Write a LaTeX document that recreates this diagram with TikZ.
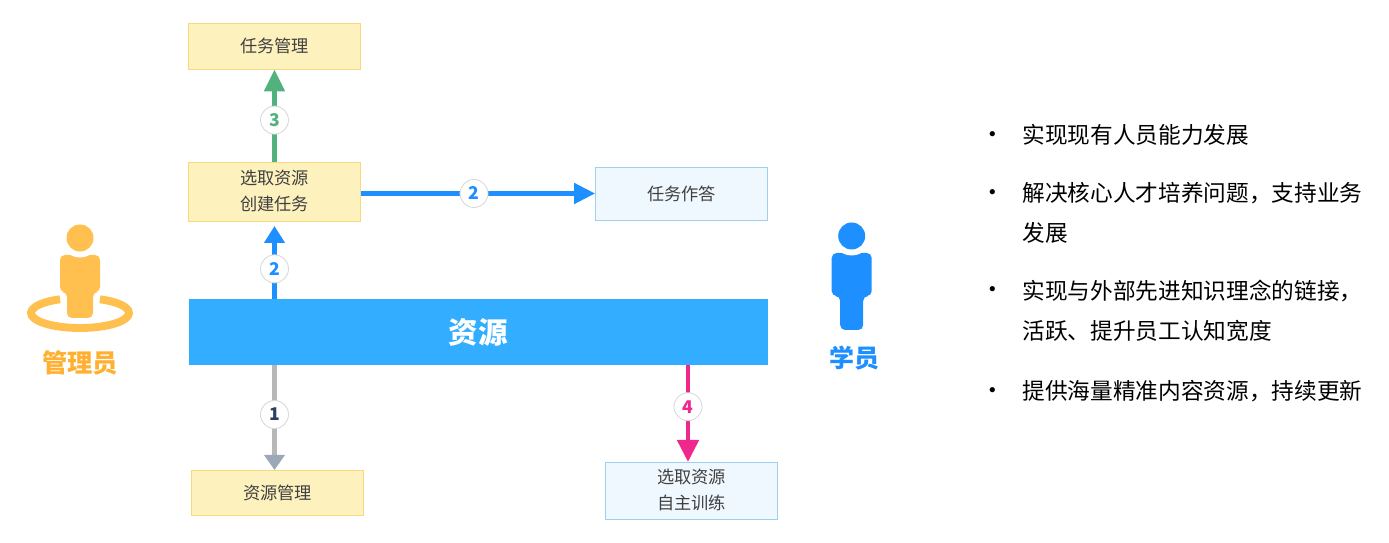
\documentclass[tikz,border=0pt]{standalone}
\usepackage{fontspec}
\setmainfont{Noto Sans CJK SC}
\usepackage{xcolor}
\usetikzlibrary{arrows.meta,positioning}
\definecolor{boxyellow}{RGB}{253,241,190}
\definecolor{lineyellow}{RGB}{249,216,128}
\definecolor{boxblue}{RGB}{240,248,255}
\definecolor{lineblue}{RGB}{156,208,238}
\definecolor{band}{RGB}{51,173,255}
\definecolor{arrowblue}{RGB}{30,143,255}
\definecolor{arrowgreen}{RGB}{82,178,126}
\definecolor{arrowpink}{RGB}{240,40,140}
\definecolor{arrowgrey}{RGB}{184,184,184}
\definecolor{tipgrey}{RGB}{156,168,184}
\definecolor{numdark}{RGB}{45,63,95}
\definecolor{admin}{RGB}{255,192,80}
\definecolor{admintext}{RGB}{255,176,48}
\tikzset{
  box/.style={minimum width=3.44cm,inner sep=0pt,line width=0.45pt,text=black!75,font=\fontsize{9.8}{14.8}\selectfont,align=center},
  adminbox/.style={box,draw=lineyellow,fill=boxyellow},
  userbox/.style={box,draw=lineblue,fill=boxblue},
  flow/.style={line width=2.7pt},
  num/.style={circle,draw=black!15,fill=white,line width=0.5pt,minimum size=0.56cm,inner sep=0pt,font=\fontsize{10}{10}\selectfont\bfseries},
  item/.style={anchor=west,align=left,inner sep=0pt,text=black,font=\fontsize{12.9}{22.8}\selectfont},
  dot/.style={inner sep=0pt,text=black,font=\fontsize{14}{14}\selectfont}
}
% x y colour shoulder-bottom leg-bottom leg-halfwidth
\newcommand{\drawperson}[6]{
  \fill[#3,rounded corners=2.8pt] (#1-20,#2-17) -- (#1-20,#2-#4) -- (#1-#6,#2-#4) -- (#1-#6,#2-#5) -- (#1+#6,#2-#5) -- (#1+#6,#2-#4) -- (#1+20,#2-#4) -- (#1+20,#2-17) -- cycle;
  \fill[white] (#1,#2) circle (19.5);
  \fill[#3] (#1,#2) circle (13.5);
}

\begin{document}
\begin{tikzpicture}[x=0.02cm,y=0.02cm]
  \useasboundingbox (0,0) rectangle (1389,543);

  \node[adminbox,minimum height=0.92cm] (taskmgr) at (274.5,497) {任务管理};
  \node[adminbox,minimum height=1.18cm] (select) at (274.5,351.5) {选取资源\\创建任务};
  \node[userbox,minimum height=1.06cm] (answer) at (681.5,349.5) {任务作答};
  \node[minimum width=11.58cm,minimum height=1.32cm,inner sep=0pt,fill=band,text=white,font=\fontsize{16.8}{20}\selectfont\bfseries] (res) at (478.5,211) {资源};
  \node[adminbox,minimum height=0.9cm] (resmgr) at (277.5,50.5) {资源管理};
  \node[userbox,minimum height=1.14cm] (selftrain) at (691.5,52.5) {选取资源\\自主训练};

  \coordinate (selectin) at (274.5,317);
  \coordinate (resmgrin) at (274.5,73);
  \coordinate (selfout) at (688,178);
  \coordinate (selfin) at (688,81);

  \draw[flow,arrowgreen,-{Triangle[length=0.44cm,width=0.4cm]}] (select.north) -- (taskmgr.south) node[num,pos=0.45,text=arrowgreen] (n3) {3};
  \draw[flow,arrowblue,-{Triangle[length=0.34cm,width=0.4cm]}] (select.south |- res.north) -- (selectin) node[num,pos=0.41,text=arrowblue] (n2a) {2};
  \draw[flow,arrowblue,-{Triangle[length=0.42cm,width=0.4cm]}] (select.east |- answer.west) -- (answer.west) node[num,pos=0.483,text=arrowblue] (n2b) {2};
  \draw[flow,arrowgrey,-{Triangle[length=0.3cm,width=0.4cm,color=tipgrey]}] (select.south |- res.south) -- (resmgrin) node[num,pos=0.47,text=numdark] (n1) {1};
  \draw[flow,arrowpink,-{Triangle[length=0.44cm,width=0.42cm]}] (selfout) -- (selfin) node[num,pos=0.43,text=arrowpink] (n4) {4};

  % people
  \draw[admin,line width=4.5pt] (80+49*cos 66,543-313+15*sin 66) arc[start angle=66,end angle=-246,x radius=49,y radius=15];
  \drawperson{80}{305}{admin}{54}{80}{13}
  \drawperson{851.7}{307}{arrowblue}{60}{94}{11.5}
  \node[text=admintext,font=\fontsize{14.4}{16}\selectfont\bfseries] (adminname) at (80,180) {管理员};
  \node[text=arrowblue,font=\fontsize{14.2}{16}\selectfont\bfseries] (username) at (854,185) {学员};

  % right list
  \foreach \y/\t in {408/{实现现有人员能力发展},330/{解决核心人才培养问题，支持业务\\发展},232/{实现与外部先进知识理念的链接，\\活跃、提升员工认知宽度},152/{提供海量精准内容资源，持续更新}} {
    \node[item] (item\y) at (1022,\y) {\t};
  }
  \foreach \y in {405,347,250,149} {\node[dot] (dot\y) at (993,\y) {•};}
\end{tikzpicture}
\end{document}
